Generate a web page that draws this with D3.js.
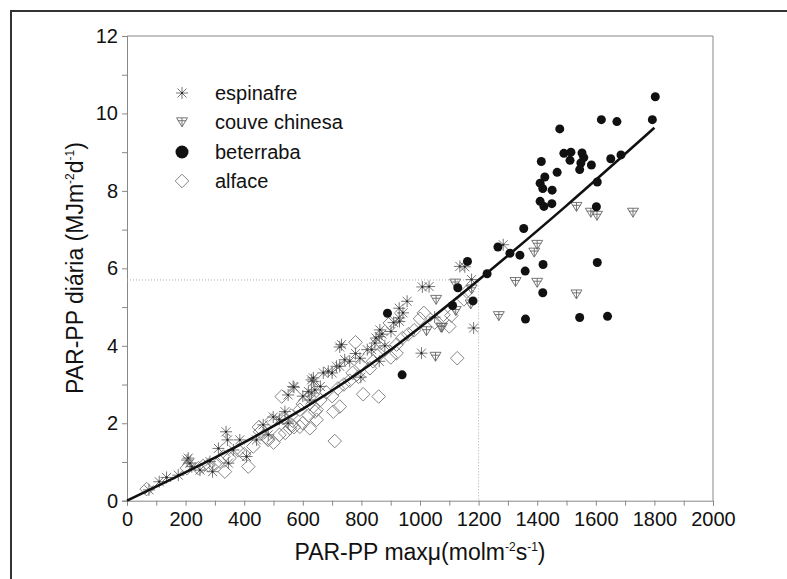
<!DOCTYPE html>
<html><head><meta charset="utf-8">
<script src="https://cdn.jsdelivr.net/npm/d3@7"></script>
<style>
body{margin:0;background:#fff;}
svg{display:block;font-family:"Liberation Sans",Arial,sans-serif;}
</style></head>
<body>
<svg id="chart" width="787" height="579"></svg>
<script>
const xTicks = d3.range(0, 2001, 100);
const yTicks = d3.range(0, 13, 1);
const seriesNames = ["espinafre", "couve chinesa", "beterraba", "alface"];

const espinafre = [
[75,0.28],[110,0.49],[135,0.6],[175,0.66],[205,1.05],[209,1.1],[215,0.97],[221,0.88],[249,0.79],
[283,1.01],[292,0.75],[312,1.35],[338,1.78],[343,1.57],[346,0.97],[363,1.31],[385,1.57],[408,1.14],
[442,1.57],[465,1.96],[482,1.7],[499,2.16],[520,2.1],[539,2.3],[550,2.0],[550,2.73],[567,2.95],
[570,2.93],[600,2.7],[630,3.12],[630,2.78],[624,2.6],[636,3.08],[641,2.86],[636,3.17],[619,2.82],
[660,2.95],[670,3.3],[687,3.34],[700,3.3],[715,3.47],[726,3.97],[732,4.03],[743,3.64],[726,3.47],
[760,3.6],[780,3.8],[795,3.68],[798,3.19],[820,3.9],[835,3.9],[846,4.07],[850,4.2],[861,3.6],
[863,4.41],[861,4.24],[870,4.3],[880,4.0],[901,4.37],[910,4.6],[929,4.97],[942,4.85],[956,5.15],
[929,4.72],[930,4.63],[1008,5.52],[1031,5.53],[1005,3.81],[1050,4.74],[1136,6.05],[1153,6.04],
[1176,5.71],[1183,4.46],[1284,6.61]
];
const couve = [
[1022,4.41],[1053,3.75],[1055,5.22],[1072,4.5],[1075,4.5],[1120,5.64],[1122,4.93],[1173,5.1],
[1176,5.49],[1269,4.8],[1326,5.68],[1390,6.44],[1400,6.64],[1400,5.66],[1534,5.36],[1534,7.62],
[1583,7.47],[1604,7.39],[1727,7.47]
];
const beterraba = [
[889,4.84],[939,3.25],[1111,5.04],[1129,5.5],[1162,6.18],[1181,5.16],[1229,5.86],[1266,6.55],
[1307,6.39],[1341,6.34],[1354,7.03],[1359,5.93],[1360,4.69],[1410,8.2],[1410,7.73],[1414,8.76],
[1419,8.06],[1419,5.37],[1420,6.1],[1423,7.6],[1426,8.36],[1450,7.67],[1451,8.02],[1468,8.48],
[1477,9.6],[1491,8.97],[1512,8.79],[1515,9.0],[1545,8.55],[1545,4.73],[1549,8.72],[1553,8.98],
[1559,8.86],[1585,8.67],[1602,7.59],[1605,8.23],[1605,6.15],[1619,9.84],[1640,4.76],[1651,8.83],
[1672,9.79],[1686,8.93],[1793,9.84],[1803,10.43]
];
const alface = [
[67,0.3],[204,0.84],[244,0.84],[260,0.9],[278,0.92],[300,0.95],[317,1.01],[334,0.75],[329,1.14],
[350,1.1],[380,1.3],[400,1.2],[414,0.88],[431,1.4],[450,1.9],[454,1.78],[480,1.6],[482,1.57],
[494,2.07],[500,1.5],[520,1.7],[533,2.13],[540,1.75],[556,1.87],[560,2.2],[561,1.96],[570,1.9],
[528,2.69],[590,1.91],[590,2.35],[600,2.0],[600,2.5],[620,2.2],[624,1.87],[636,2.43],[642,2.3],
[647,2.09],[647,2.35],[660,2.6],[680,2.8],[700,2.7],[704,2.3],[709,1.54],[720,2.9],[726,2.43],
[740,3.0],[760,3.1],[770,3.3],[780,4.09],[790,3.2],[800,3.5],[806,2.75],[829,3.42],[840,3.6],
[859,2.69],[860,3.8],[880,3.9],[897,4.59],[900,3.7],[920,4.03],[920,3.81],[940,4.2],[960,4.3],
[980,4.4],[1000,4.7],[1013,4.85],[1050,4.6],[1080,4.8],[1100,4.5],[1107,4.78],[1127,3.68],
[1150,5.2],[1160,5.4]
];
// fitted curve
const fitX = [0,300,600,900,1200,1500,1800];
const fitY = [0,1.11,2.37,3.9,5.7,7.62,9.63];
const refX = 1200, refY = 5.7;

const svg = d3.select("#chart");
const m = {l:127, r:713, t:36, b:500.7};
const x = d3.scaleLinear().domain([0,2000]).range([m.l, m.r]);
const y = d3.scaleLinear().domain([0,12]).range([m.b, m.t]);

// outer frame
svg.append("rect").attr("x",11).attr("y",11).attr("width",800).attr("height",600)
  .attr("fill","none").attr("stroke","#333").attr("stroke-width",2);

// plot box top/right
svg.append("path").attr("d",`M${m.l},${m.t}H${m.r}V${m.b}`).attr("fill","none").attr("stroke","#888").attr("stroke-width",1);

// axes
const xAxis = d3.axisBottom(x).tickValues(xTicks).tickSize(5).tickPadding(6)
  .tickFormat(d => d % 200 === 0 ? d : "");
const gx = svg.append("g").attr("transform",`translate(0,${m.b})`).call(xAxis);
const yAxis = d3.axisLeft(y).tickValues(yTicks).tickSize(5).tickPadding(4)
  .tickFormat(d => d % 2 === 0 ? d : "");
const gy = svg.append("g").attr("transform",`translate(${m.l},0)`).call(yAxis);
[gx,gy].forEach(g=>{
  g.select(".domain").attr("stroke","#888");
  g.selectAll(".tick line").attr("stroke","#888");
  g.selectAll(".tick text").attr("fill","#111").style("font-size","20px")
   .style("font-family","'Liberation Sans',Arial,sans-serif");
});

// reference dotted lines
svg.append("path").attr("d",`M${x(0)},${y(refY)}H${x(refX)}V${y(0)}`)
  .attr("fill","none").attr("stroke","#aaa").attr("stroke-width",1).attr("stroke-dasharray","1,2");

// markers
const grey = "#666";
function asterisk(g, cx, cy, s){
  const p = g.append("g").attr("transform",`translate(${cx},${cy})`);
  const r = s;
  p.append("path").attr("d",`M0,${-r}V${r}M${-r},0H${r}M${-r*0.75},${-r*0.75}L${r*0.75},${r*0.75}M${-r*0.75},${r*0.75}L${r*0.75},${-r*0.75}`)
   .attr("stroke",grey).attr("stroke-width",0.9).attr("fill","none");
  p.append("circle").attr("r",1.1).attr("fill","#222");
}
function triangle(g, cx, cy, s){
  const p = g.append("g").attr("transform",`translate(${cx},${cy})`);
  const w = s, h = s*1.05;
  p.append("path").attr("d",`M${-w},${-h*0.55}H${w}L0,${h}Z M${-w*0.75},${-h*0.05}H${w*0.75} M0,${-h*0.55}V${h}`)
   .attr("stroke",grey).attr("stroke-width",0.9).attr("fill","none");
}
function diamond(g, cx, cy, s){
  g.append("path").attr("d",`M${cx},${cy-s}L${cx+s},${cy}L${cx},${cy+s}L${cx-s},${cy}Z`)
   .attr("stroke","#777").attr("stroke-width",0.9).attr("fill","none");
}
function dot(g, cx, cy, s){
  g.append("circle").attr("cx",cx).attr("cy",cy).attr("r",s).attr("fill","#111");
}

const gA = svg.append("g");
alface.forEach(d => diamond(gA, x(d[0]), y(d[1]), 6.8));
const gE = svg.append("g");
espinafre.forEach(d => asterisk(gE, x(d[0]), y(d[1]), 6));
const gC = svg.append("g");
couve.forEach(d => triangle(gC, x(d[0]), y(d[1]), 5.5));
const gB = svg.append("g");
beterraba.forEach(d => dot(gB, x(d[0]), y(d[1]), 4.5));

// fitted curve
const line = d3.line().x(d=>x(d[0])).y(d=>y(d[1])).curve(d3.curveNatural);
svg.append("path").datum(fitX.map((v,i)=>[v,fitY[i]])).attr("d",line)
  .attr("fill","none").attr("stroke","#111").attr("stroke-width",2.6);

// legend
const lg = svg.append("g");
const ly = [93,122,152,181];
asterisk(lg, 182, ly[0], 6);
triangle(lg, 182, ly[1]-1, 5.5);
dot(lg, 182, ly[2], 6.5);
diamond(lg, 182, ly[3], 6.8);
seriesNames.forEach((n,i)=>{
  lg.append("text").attr("x",215).attr("y",ly[i]+7).text(n)
    .style("font-size","20px").attr("fill","#111");
});

// axis titles
const xt = svg.append("text").attr("x",420).attr("y",560).attr("text-anchor","middle")
  .style("font-size","23px").attr("fill","#111");
xt.append("tspan").text("PAR-PP max\u03bc(molm");
xt.append("tspan").text("-2").attr("dy",-9).style("font-size","12px");
xt.append("tspan").text("s").attr("dy",9);
xt.append("tspan").text("-1").attr("dy",-9).style("font-size","12px");
xt.append("tspan").text(")").attr("dy",9);

const yt = svg.append("text").attr("transform","translate(83,268) rotate(-90)").attr("text-anchor","middle")
  .style("font-size","23px").attr("fill","#111");
yt.append("tspan").text("PAR-PP diária (MJm");
yt.append("tspan").text("-2").attr("dy",-9).style("font-size","12px");
yt.append("tspan").text("d").attr("dy",9);
yt.append("tspan").text("-1").attr("dy",-9).style("font-size","12px");
yt.append("tspan").text(")").attr("dy",9);
</script>
</body></html>
